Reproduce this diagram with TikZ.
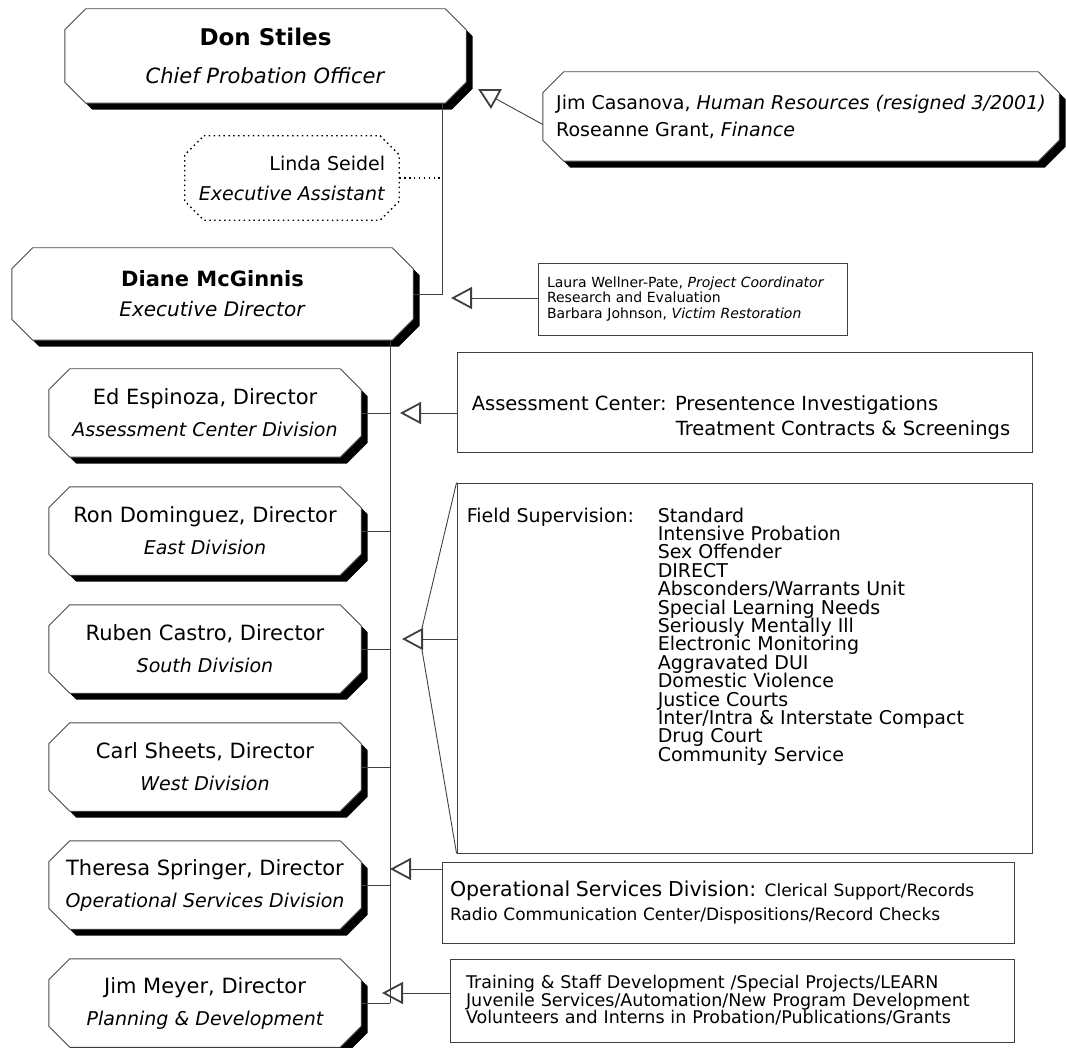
\documentclass[tikz,border=0pt]{standalone}
\usepackage{fontspec}
\setmainfont{DejaVu Sans}
\usetikzlibrary{arrows.meta,positioning,backgrounds}

\newcommand{\role}[1]{{\itshape\fontsize{19}{32}\selectfont #1}}
\newcommand{\tightlines}{\lineskiplimit=-20pt\relax}
% chamfered outline round a node: name, cut, x shift, y shift
\newcommand{\cutoutline}[4]{%
  ([xshift=#3+#2,yshift=#4]#1.north west) -- ([xshift=#3-#2,yshift=#4]#1.north east)
  -- ([xshift=#3,yshift=#4-#2]#1.north east) -- ([xshift=#3,yshift=#4+#2]#1.south east)
  -- ([xshift=#3-#2,yshift=#4]#1.south east) -- ([xshift=#3+#2,yshift=#4]#1.south west)
  -- ([xshift=#3,yshift=#4+#2]#1.south west) -- ([xshift=#3,yshift=#4-#2]#1.north west) -- cycle}

\begin{document}
\begin{tikzpicture}[x=1pt,y=-1pt,node distance=29.6pt,
  every node/.style={inner sep=0pt},
  head/.style={minimum width=401pt,align=center,font=\fontsize{21}{38}\selectfont},
  division/.style={minimum width=312pt,minimum height=88pt,align=center,font=\fontsize{21}{32}\selectfont},
  aide/.style={minimum width=214pt,minimum height=84pt,align=right,font=\fontsize{19}{30}\selectfont},
  unit/.style={draw=black!75,line width=0.9pt,fill=white},
  listtext/.style={anchor=north west,align=left,font=\fontsize{19}{18.4}\selectfont\tightlines},
  cutline/.style={draw=black!70,fill=white,line width=0.9pt},
  shadowfill/.style={fill=black},
  dotline/.style={draw=black,line width=1.3pt,dash pattern=on 1.5pt off 3.4pt},
  wire/.style={draw=black!75,line width=0.9pt},
  staff/.style={wire,-{Triangle[open,length=21pt,width=22pt,line width=1.8pt]}}]
\useasboundingbox (0,0) rectangle (1066,1048);

% chief and executive
\node[head,minimum height=94pt] (don) at (265.5,56) {{\bfseries\fontsize{23}{38}\selectfont Don Stiles}\\\textit{Chief Probation Officer}};
\node[aide] (linda) at (292,178) {Linda Seidel\\\textit{Executive Assistant}};
\node[head,minimum height=92pt,font=\fontsize{20}{30}\selectfont] (diane) at (212.5,294) {{\bfseries\fontsize{21}{30}\selectfont Diane McGinnis}\\\textit{Executive Director}};
\node[minimum width=516pt,minimum height=89pt,align=left,font=\fontsize{19}{27}\selectfont] (casa) at (801,116.5) {Jim Casanova, \textit{Human Resources (resigned 3/2001)}\\Roseanne Grant, \textit{Finance}};
\node[unit,minimum width=309pt,minimum height=72pt,text width=291pt,align=left,font=\fontsize{14}{15.5}\selectfont] (laura) at (692.5,299) {Laura Wellner-Pate, \textit{Project Coordinator}\\Research and Evaluation\\Barbara Johnson, \textit{Victim Restoration}};

% divisions
\node[division] (ed) at (205,413) {Ed Espinoza, Director\\\role{Assessment Center Division}};
\node[division,below=of ed] (ron) {Ron Dominguez, Director\\\role{East Division}};
\node[division,below=of ron] (ruben) {Ruben Castro, Director\\\role{South Division}};
\node[division,below=of ruben] (west) {Carl Sheets, Director\\\role{West Division}};
\node[division,below=of west] (theresa) {Theresa Springer, Director\\\role{Operational Services Division}};
\node[division,below=of theresa] (jim) {Jim Meyer, Director\\\role{Planning \& Development}};

% units
\node[unit,minimum width=575pt,minimum height=100pt] (assess) at (744.5,402) {};
\node[anchor=north west,align=left,font=\fontsize{19.5}{25}\selectfont] (assesstext) at ([shift={(15,44)}]assess.north west) {Assessment Center: Presentence Investigations\\\hspace*{204pt}Treatment Contracts \& Screenings};
\node[unit,minimum width=575pt,minimum height=370pt] (field) at (744.5,668) {};
\node[listtext] (fieldhead) at ([shift={(10,25)}]field.north west) {Field Supervision:};
\node[listtext] (fieldlist) at ([shift={(201,25)}]field.north west) {Standard\\Intensive Probation\\Sex Offender\\DIRECT\\Absconders/Warrants Unit\\Special Learning Needs\\Seriously Mentally Ill\\Electronic Monitoring\\Aggravated DUI\\Domestic Violence\\Justice Courts\\Inter/Intra \& Interstate Compact\\Drug Court\\Community Service};
\node[unit,minimum width=572pt,minimum height=81pt,text width=556pt,align=left,font=\fontsize{17}{24}\selectfont] (opdiv) at (728,902.5) {{\fontsize{20.5}{24}\selectfont Operational Services Division:} Clerical Support/Records\\Radio Communication Center/Dispositions/Record Checks};
\node[unit,minimum width=564pt,minimum height=83pt,text width=532pt,align=left,font=\fontsize{17.5}{17.5}\selectfont\tightlines] (train) at (732,1000.5) {Training \& Staff Development /Special Projects/LEARN\\Juvenile Services/Automation/New Program Development\\Volunteers and Interns in Probation/Publications/Grants};

% chamfered boxes with their shadows
\begin{scope}[on background layer]
  \foreach \n in {don,diane,casa,ed,ron,ruben,west,theresa,jim}{
    \path[shadowfill] \cutoutline{\n}{21pt}{6.5pt}{-6.5pt};
    \path[cutline] \cutoutline{\n}{21pt}{0pt}{0pt};
  }
  \path[dotline] \cutoutline{linda}{19pt}{0pt}{0pt};
\end{scope}

\coordinate (topbar) at (442,0);
\coordinate (trunk) at (390,0);
\coordinate (casatip) at (478,89);
\coordinate (lauratip) at (451,298);
\coordinate (assesstip) at (400,413);
\coordinate (fieldtip) at (402,639);
\coordinate (optip) at (390,869);
\coordinate (traintip) at (382,993);

\draw[wire] (topbar |- don.south) |- (diane.east);
\draw[dotline] (linda.east) -- (linda.east -| topbar);
\draw[wire] (trunk |- diane.south) -- (trunk |- jim.east);
\foreach \d in {ed,ron,ruben,west,theresa,jim}
  \draw[wire] (\d.east) -- (\d.east -| trunk);
\draw[staff] ([yshift=-8pt]casa.west) -- (casatip);
\draw[staff] (laura.west |- lauratip) -- (lauratip);
\draw[staff] (assess.west |- assesstip) -- (assesstip);
\draw[staff] (field.west |- fieldtip) -- (fieldtip);
\draw[wire] (field.north west) -- ([shift={(20,-11)}]fieldtip) ([shift={(20,11)}]fieldtip) -- (field.south west);
\draw[staff] (opdiv.west |- optip) -- (optip);
\draw[staff] (train.west |- traintip) -- (traintip);
\end{tikzpicture}
\end{document}
